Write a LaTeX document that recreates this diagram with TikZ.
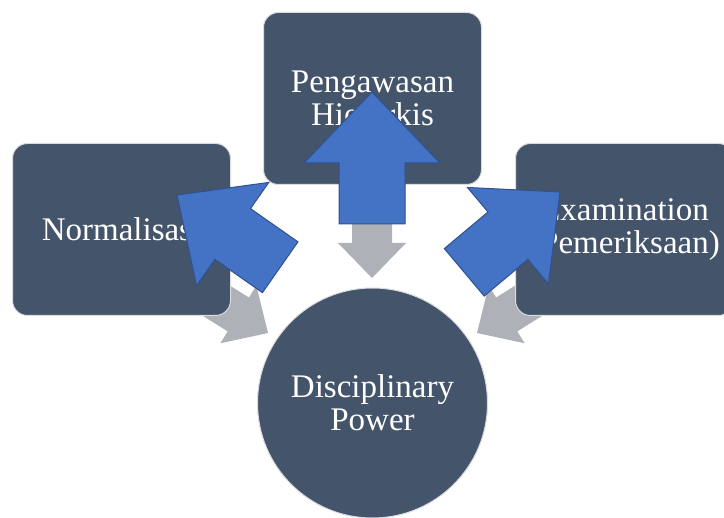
\documentclass[tikz,border=0pt]{standalone}
\usepackage{fontspec}
\setmainfont{Liberation Serif}
\usepackage{xcolor}
\usetikzlibrary{positioning,backgrounds}

\definecolor{slate}{HTML}{44546A}
\definecolor{steel}{HTML}{AEB1B8}
\definecolor{arrowblue}{HTML}{4472C4}
\definecolor{arrowline}{HTML}{2F528F}
\definecolor{rim}{HTML}{D9DBDF}

% block arrow with its tip at the origin, pointing along +x
% #1 length, #2 head length, #3 half head width, #4 half shaft width
\tikzset{
  pics/blockarrow/.style n args={4}{code={
    \path[pic actions] (0,0) -- (-#2,#3) -- (-#2,#4) -- (-#1,#4)
      -- (-#1,-#4) -- (-#2,-#4) -- (-#2,-#3) -- cycle;}},
}

\begin{document}
\begin{tikzpicture}[x=1pt,y=-1pt,
    every node/.style={on grid,text=white,align=center,font=\fontsize{33}{33}\selectfont},
    stage/.style={rectangle,rounded corners=15pt,fill=slate,draw=rim,line width=1pt,
      minimum width=218pt,minimum height=172pt},
    hub/.style={circle,fill=slate,draw=rim,line width=1pt,minimum size=230pt},
    grey arrow/.style={fill=steel},
    blue arrow/.style={fill=arrowblue,draw=arrowline,line width=1pt,line join=miter}]
  \useasboundingbox (0,0) rectangle (724,518);

  \node[stage] (hier) at (372.5,98.5) {Pengawasan\\Hierarkis};
  \node[stage,below left=131pt and 251pt of hier] (norm) {Normalisasi};
  \node[stage,below right=131pt and 252pt of hier] (exam) {Examination\\(Pemeriksaan)};
  \node[hub,below=304.5pt of hier] (power) {Disciplinary\\Power};

  % grey arrows run from the boxes into the circle, behind the shapes
  \begin{scope}[on background layer]
    \pic[grey arrow,rotate=-90] at (372,278) {blockarrow={70}{35}{34}{20}};
    \pic[grey arrow,rotate=-32] at (268,333) {blockarrow={90}{35}{34}{20}};
    \pic[grey arrow,rotate=-148] at (477,333) {blockarrow={90}{35}{34}{20}};
  \end{scope}

  % blue arrows out of the circle, on top
  \pic[blue arrow,rotate=90] at (372,92) {blockarrow={132}{71}{68}{33}};
  \pic[blue arrow,rotate=145] at (177,195) {blockarrow={126}{68}{63}{31}};
  \pic[blue arrow,rotate=40] at (560,192) {blockarrow={125}{68}{63}{31}};
\end{tikzpicture}
\end{document}
